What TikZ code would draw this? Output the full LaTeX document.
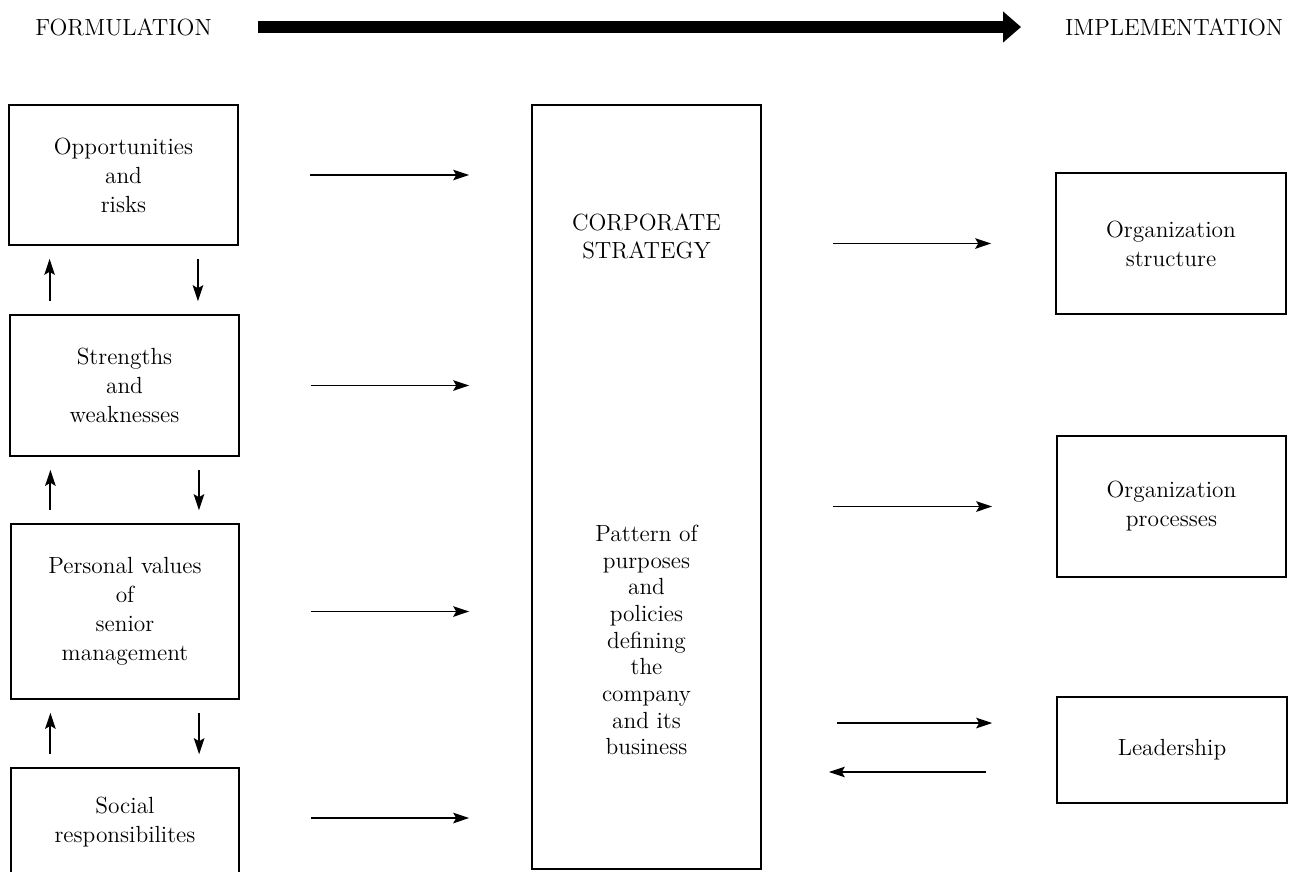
\documentclass[tikz,border=0pt]{standalone}
\usetikzlibrary{arrows.meta,calc}
\begin{document}
\begin{tikzpicture}[x=0.02cm,y=-0.02cm,
  box/.style={draw, line width=0.9pt, inner sep=0pt, align=center, font=\fontsize{13.3}{16.5}\selectfont},
  lbl/.style={inner sep=0pt, align=center, font=\fontsize{13.3}{16}\selectfont},
  arr/.style={line width=1.1pt, -{Stealth[length=0.32cm,width=0.21cm,inset=0.06cm]}},
  vshort/.style={shorten <=0.26cm, shorten >=0.26cm},
  lshort/.style={shorten <=1.42cm, shorten >=1.24cm},
  rshort/.style={shorten <=1.42cm, shorten >=1.28cm}]
\useasboundingbox (0,0) rectangle (1295,872);
\clip (0,0) rectangle (1295,872);
\fill[white] (0,0) rectangle (1295,872);

% header
\node[lbl] (form) at (123.5,27) {FORMULATION};
\node[lbl] (impl) at (1174,27) {IMPLEMENTATION};
\draw[line width=0.24cm, -{Triangle[length=0.36cm,width=0.6cm]},
      shorten <=2.69cm, shorten >=3.06cm] (form.center) -- (impl.center);

% left column
\node[box, minimum width=4.58cm, minimum height=2.8cm] (b1) at (123.5,175) {Opportunities\\and\\risks};
\node[box, minimum width=4.58cm, minimum height=2.82cm] (b2) at (124.5,385.5) {Strengths\\and\\weaknesses};
\node[box, minimum width=4.56cm, minimum height=3.5cm] (b3) at (125,611.5) {Personal values\\of\\senior\\management};
\node[box, minimum width=4.56cm, minimum height=2.16cm] (b4) at (125,822) {Social\\responsibilites};

% centre box
\node[box, minimum width=4.58cm, minimum height=15.28cm] (cs) at (646.5,487) {};
\node[lbl] (cstitle) at (646.5,236) {CORPORATE\\STRATEGY};
\node[lbl, font=\fontsize{13.3}{15.2}\selectfont] (cspat) at (646.5,640)
  {Pattern of\\purposes\\and\\policies\\defining\\the\\company\\and its\\business};

% right column
\node[box, minimum width=4.6cm, minimum height=2.82cm] (r1) at (1171,243.5) {Organization\\structure};
\node[box, minimum width=4.58cm, minimum height=2.82cm] (r2) at (1171.5,506.5) {Organization\\processes};
\node[box, minimum width=4.6cm, minimum height=2.12cm] (r3) at (1172,750) {Leadership};

% anchor points for the vertical arrows
\coordinate (u1) at ($(b2.north west)!0.175!(b2.north east)$);
\coordinate (d1) at ($(b1.south west)!0.823!(b1.south east)$);
\coordinate (u2) at ($(b3.north west)!0.175!(b3.north east)$);
\coordinate (d2) at ($(b2.south west)!0.823!(b2.south east)$);
\coordinate (u3) at ($(b4.north west)!0.175!(b4.north east)$);
\coordinate (d3) at ($(b3.south west)!0.823!(b3.south east)$);

% vertical arrows in left column
\draw[arr, vshort] (u1) -- (u1 |- b1.south);
\draw[arr, vshort] (d1) -- (d1 |- b2.north);
\draw[arr, vshort] (u2) -- (u2 |- b2.south);
\draw[arr, vshort] (d2) -- (d2 |- b3.north);
\draw[arr, vshort] (u3) -- (u3 |- b3.south);
\draw[arr, vshort] (d3) -- (d3 |- b4.north);

% left to centre
\draw[arr, lshort] (b1.east) -- (b1.east -| cs.west);
\draw[arr, lshort] (b2.east) -- (b2.east -| cs.west);
\draw[arr, lshort] (b3.east) -- (b3.east -| cs.west);
\draw[arr, lshort] ($(b4.east)+(0cm,0.08cm)$) -- ($(b4.east -| cs.west)+(0cm,0.08cm)$);

% centre to right
\draw[arr, rshort] (cs.east |- r1.west) -- (r1.west);
\draw[arr, rshort] (cs.east |- r2.west) -- (r2.west);
\draw[arr, shorten <=1.5cm, shorten >=1.28cm] ($(cs.east |- r3.west)+(0cm,0.54cm)$) -- ($(r3.west)+(0cm,0.54cm)$);
\draw[arr, shorten <=1.4cm, shorten >=1.34cm] ($(r3.west)+(0cm,-0.44cm)$) -- ($(cs.east |- r3.west)+(0cm,-0.44cm)$);
\end{tikzpicture}
\end{document}
